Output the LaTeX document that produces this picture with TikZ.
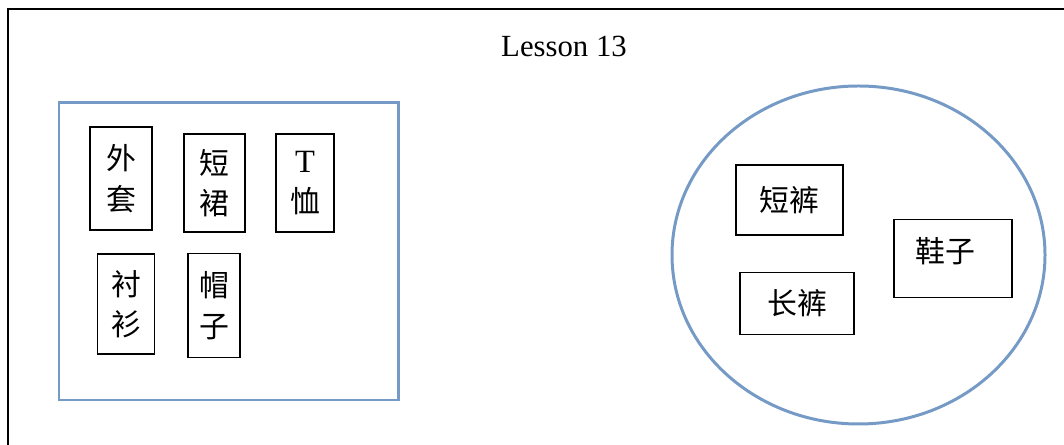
\documentclass[tikz,border=0pt]{standalone}
\usepackage{fontspec}
\setmainfont{Liberation Serif}
\newfontfamily\cjk{Noto Sans CJK SC}
\usepackage{xcolor}
\usepackage{tikz}
\usetikzlibrary{shapes,positioning}
\definecolor{groupblue}{RGB}{116, 154, 197}

\begin{document}
\begin{tikzpicture}[
    item/.style={draw, line width=0.9pt, font=\fontsize{17}{23}\selectfont\cjk, align=center, inner sep=0pt},
    group/.style={draw=groupblue, line width=1.7pt}
]
        \useasboundingbox (0, 0) rectangle (21.28, 8.9);
        % Outer frame (runs off the page on the right and bottom)
        \draw[line width=1.1pt] (0.16, -0.5) -- (0.16, 8.72) -- (21.8, 8.72);
        \node[font=\fontsize{17.5}{21}\selectfont] (title) at (11.28, 7.97) {Lesson 13};
        
        % Left group
        \draw[group] (1.18, 0.9) rectangle (7.96, 6.84);
        \node[item, minimum width=1.25cm, minimum height=2.05cm] (waitao) at (2.42, 5.33) {外\\套};
        \node[item, minimum width=1.21cm, minimum height=1.97cm] (duanqun) at (4.29, 5.24) {短\\裙};
        \node[item, minimum width=1.17cm, minimum height=1.97cm] (txu) at (6.10, 5.24) {{\normalfont\fontsize{18.5}{23}\selectfont T}\\恤};
        \node[item, minimum width=1.14cm, minimum height=2.01cm] (chenshan) at (2.52, 2.82) {衬\\衫};
        \node[item, minimum width=1.05cm, minimum height=2.08cm] (maozi) at (4.28, 2.79) {帽\\子};
        
        % Right group
        \draw[group] (17.17, 3.80) ellipse (3.73 and 3.38);
        \node[item, minimum width=2.13cm, minimum height=1.41cm] (duanku) at (15.79, 4.90) {短裤};
        \node[item, minimum width=2.29cm, minimum height=1.24cm] (changku) at (15.94, 2.83) {长裤};
        \node[item, minimum width=2.37cm, minimum height=1.56cm, text width=1.5cm, align=left, text depth=0.35cm] (xiezi) at (19.06, 3.73) {鞋子};
    \end{tikzpicture}
\end{document}
